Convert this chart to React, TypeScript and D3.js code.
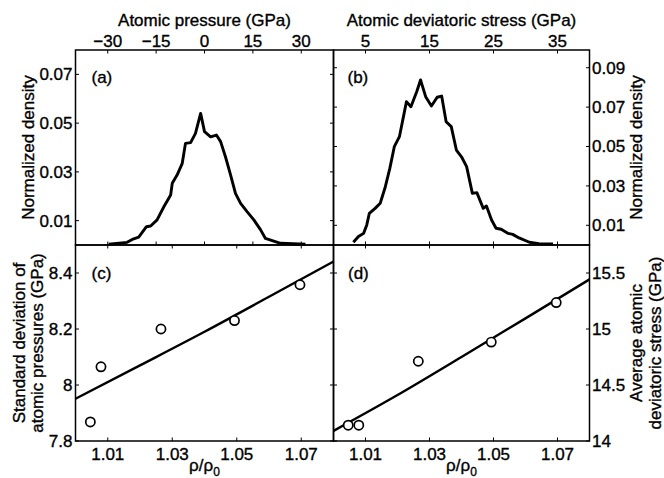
import React from "react";
import * as d3 from "d3";

// ---- Data ----
const pressureX = [-29.7, -24.0, -22.4, -20.4, -18.0, -16.7, -14.7, -12.6, -10.5, -10.0, -8.5, -6.9, -5.9, -4.3, -2.8, -1.2, 0, 1.9, 3.7, 5.0, 6.5, 8.1, 9.6, 11.2, 13.2, 15.3, 17.4, 18.9, 23.6, 31.3];
const pressureDensity = [0.0003, 0.0011, 0.0023, 0.0032, 0.0075, 0.0078, 0.0103, 0.0157, 0.0205, 0.0253, 0.0287, 0.0335, 0.0417, 0.042, 0.0458, 0.054, 0.0465, 0.0444, 0.0451, 0.0424, 0.0362, 0.0287, 0.0212, 0.0171, 0.0137, 0.0103, 0.0062, 0.0027, 0.0007, 0.0003];

const stressX = [3.1, 3.9, 4.7, 5.2, 5.6, 6.5, 7.3, 8.1, 8.8, 9.5, 10.3, 11.4, 12.1, 13.0, 13.6, 14.4, 15.3, 16.2, 16.9, 17.6, 18.4, 19.2, 20.0, 20.8, 21.7, 22.4, 23.4, 23.9, 24.7, 25.4, 26.2, 27.3, 28.0, 29.0, 30.6, 32.1, 34.3];
const stressDensity = [0.0014, 0.0043, 0.0059, 0.0102, 0.0161, 0.0186, 0.0212, 0.0296, 0.0389, 0.0499, 0.055, 0.0728, 0.0702, 0.0778, 0.0838, 0.0753, 0.0706, 0.075, 0.0756, 0.0626, 0.0601, 0.0482, 0.0448, 0.0398, 0.0262, 0.0266, 0.0186, 0.0198, 0.0127, 0.0085, 0.008, 0.0059, 0.0054, 0.0036, 0.0014, 0.0007, 0.0005];

const rhoRatio = [1.0046, 1.0079, 1.0265, 1.0493, 1.0696];
const pressureStd = [7.868, 8.065, 8.2, 8.23, 8.358];
const avgStress = [14.141, 14.141, 14.712, 14.883, 15.236];

const fitRho = [1.0, 1.02, 1.04, 1.06, 1.08];
const pressureStdFit = [7.951, 8.07, 8.19, 8.315, 8.441];
const avgStressFit = [14.09, 14.41, 14.75, 15.095, 15.443];

const pressureTicks = [-30, -15, 0, 15, 30];
const stressTicks = [5, 15, 25, 35];
const densityTicksA = [0.01, 0.03, 0.05, 0.07];
const densityTicksB = [0.01, 0.03, 0.05, 0.07, 0.09];
const rhoTicks = [1.01, 1.03, 1.05, 1.07];
const stdTicks = [7.8, 8, 8.2, 8.4];
const avgTicks = [14, 14.5, 15, 15.5];

// ---- Layout ----
const W = 664, H = 478;
const L0 = 75.5, L1 = 333.5, R1 = 589.5;
const T0 = 50, T1 = 245, B1 = 441;
const FONT = "'Liberation Sans', Arial, Helvetica, sans-serif";
const FS = 17;
const TK = 3.5;

const fmt = (v: number) => String(v).replace("-", "\u2212");

export default function App() {
  const xa = d3.scaleLinear().domain([-40, 40]).range([L0, L1]);
  const xb = d3.scaleLinear().domain([0, 40]).range([L1, R1]);
  const ya = d3.scaleLinear().domain([0, 0.08]).range([T1, T0]);
  const yb = d3.scaleLinear().domain([0, 0.099]).range([T1, T0]);
  const xc = d3.scaleLinear().domain([1.0, 1.08]).range([L0, L1]);
  const xd = d3.scaleLinear().domain([1.0, 1.08]).range([L1, R1]);
  const yc = d3.scaleLinear().domain([7.8, 8.5]).range([B1, T1]);
  const yd = d3.scaleLinear().domain([14, 15.75]).range([B1, T1]);

  const lineA = d3.line<number>().x((_, i) => xa(pressureX[i])).y((d) => ya(d));
  const lineB = d3.line<number>().x((_, i) => xb(stressX[i])).y((d) => yb(d));
  const lineC = d3.line<number>().x((_, i) => xc(fitRho[i])).y((d) => yc(d)).curve(d3.curveMonotoneX);
  const lineD = d3.line<number>().x((_, i) => xd(fitRho[i])).y((d) => yd(d)).curve(d3.curveMonotoneX);

  const ticks: any[] = [];
  let k = 0;
  const addX = (scale: any, vals: number[], top: number, bottom: number) => {
    vals.forEach((v) => {
      const x = scale(v);
      ticks.push(<line key={k++} x1={x} x2={x} y1={top} y2={top + TK} />);
      ticks.push(<line key={k++} x1={x} x2={x} y1={bottom} y2={bottom - TK} />);
    });
  };
  const addY = (scale: any, vals: number[], left: number, right: number) => {
    vals.forEach((v) => {
      const y = scale(v);
      ticks.push(<line key={k++} x1={left} x2={left + TK} y1={y} y2={y} />);
      ticks.push(<line key={k++} x1={right} x2={right - TK} y1={y} y2={y} />);
    });
  };
  addX(xa, pressureTicks, T0, T1);
  addX(xb, stressTicks, T0, T1);
  addX(xc, rhoTicks, T1, B1);
  addX(xd, rhoTicks, T1, B1);
  addY(ya, densityTicksA, L0, L1);
  addY(yb, densityTicksB, L1, R1);
  addY(yc, stdTicks, L0, L1);
  addY(yd, avgTicks, L1, R1);

  const rhoLabel = (cx: number) => (
    <text x={cx} y={471} textAnchor="middle" fontSize={FS}>
      ρ/ρ<tspan fontSize={12} dy={5}>0</tspan>
    </text>
  );

  return (
    <svg width={W} height={H} style={{ position: "absolute", left: 0, top: 0, background: "#fff" }} fontFamily={FONT}>
      <rect x={0} y={0} width={W} height={H} fill="#fff" />
      {/* frames */}
      <g fill="none" stroke="#000" strokeWidth={1.5}>
        <rect x={L0} y={T0} width={L1 - L0} height={T1 - T0} />
        <rect x={L1} y={T0} width={R1 - L1} height={T1 - T0} />
        <rect x={L0} y={T1} width={L1 - L0} height={B1 - T1} />
        <rect x={L1} y={T1} width={R1 - L1} height={B1 - T1} />
      </g>
      <g stroke="#000" strokeWidth={1}>{ticks}</g>

      {/* curves */}
      <path d={lineA(pressureDensity) || ""} fill="none" stroke="#000" strokeWidth={2.9} strokeLinejoin="round" />
      <path d={lineB(stressDensity) || ""} fill="none" stroke="#000" strokeWidth={2.9} strokeLinejoin="round" />
      <path d={lineC(pressureStdFit) || ""} fill="none" stroke="#000" strokeWidth={2.4} />
      <path d={lineD(avgStressFit) || ""} fill="none" stroke="#000" strokeWidth={2.4} />
      {rhoRatio.map((r, i) => (
        <circle key={"c" + i} cx={xc(r)} cy={yc(pressureStd[i])} r={4.6} fill="#fff" stroke="#000" strokeWidth={1.7} />
      ))}
      {rhoRatio.map((r, i) => (
        <circle key={"d" + i} cx={xd(r)} cy={yd(avgStress[i])} r={4.6} fill="#fff" stroke="#000" strokeWidth={1.7} />
      ))}

      <g fontSize={FS} fill="#000" stroke="#000" strokeWidth={0.35}>
        {/* tick labels */}
        {pressureTicks.map((v) => (
          <text key={"pt" + v} x={xa(v)} y={47} textAnchor="middle">{fmt(v)}</text>
        ))}
        {stressTicks.map((v) => (
          <text key={"st" + v} x={xb(v)} y={47} textAnchor="middle">{fmt(v)}</text>
        ))}
        {densityTicksA.map((v) => (
          <text key={"da" + v} x={L0 - 3} y={ya(v)} dy="0.35em" textAnchor="end">{fmt(v)}</text>
        ))}
        {densityTicksB.map((v) => (
          <text key={"db" + v} x={R1 + 2.5} y={yb(v)} dy="0.35em" textAnchor="start">{fmt(v)}</text>
        ))}
        {stdTicks.map((v) => (
          <text key={"sd" + v} x={L0 - 3} y={yc(v)} dy="0.35em" textAnchor="end">{fmt(v)}</text>
        ))}
        {avgTicks.map((v) => (
          <text key={"av" + v} x={R1 + 2.5} y={yd(v)} dy="0.35em" textAnchor="start">{fmt(v)}</text>
        ))}
        {rhoTicks.map((v) => (
          <text key={"rc" + v} x={xc(v)} y={459.5} textAnchor="middle">{fmt(v)}</text>
        ))}
        {rhoTicks.map((v) => (
          <text key={"rd" + v} x={xd(v)} y={459.5} textAnchor="middle">{fmt(v)}</text>
        ))}

        {/* axis titles */}
        <text x={(L0 + L1) / 2} y={26} textAnchor="middle">Atomic pressure (GPa)</text>
        <text x={(L1 + R1) / 2} y={26} textAnchor="middle">Atomic deviatoric stress (GPa)</text>
        <text transform={`translate(34,${(T0 + T1) / 2}) rotate(-90)`} textAnchor="middle">Normalized density</text>
        <text transform={`translate(642,${(T0 + T1) / 2}) rotate(-90)`} textAnchor="middle">Normalized density</text>
        <text transform={`translate(25,${(T1 + B1) / 2}) rotate(-90)`} textAnchor="middle">Standard deviation of</text>
        <text transform={`translate(42.5,${(T1 + B1) / 2}) rotate(-90)`} textAnchor="middle">atomic pressures (GPa)</text>
        <text transform={`translate(642,${(T1 + B1) / 2}) rotate(-90)`} textAnchor="middle">Average atomic</text>
        <text transform={`translate(660.5,${(T1 + B1) / 2}) rotate(-90)`} textAnchor="middle">deviatoric stress (GPa)</text>
        {rhoLabel((L0 + L1) / 2)}
        {rhoLabel((L1 + R1) / 2)}
        <text x={91.5} y={83}>(a)</text>
        <text x={347.5} y={83}>(b)</text>
        <text x={91.5} y={279}>(c)</text>
        <text x={348} y={279}>(d)</text>
      </g>
    </svg>
  );
}
